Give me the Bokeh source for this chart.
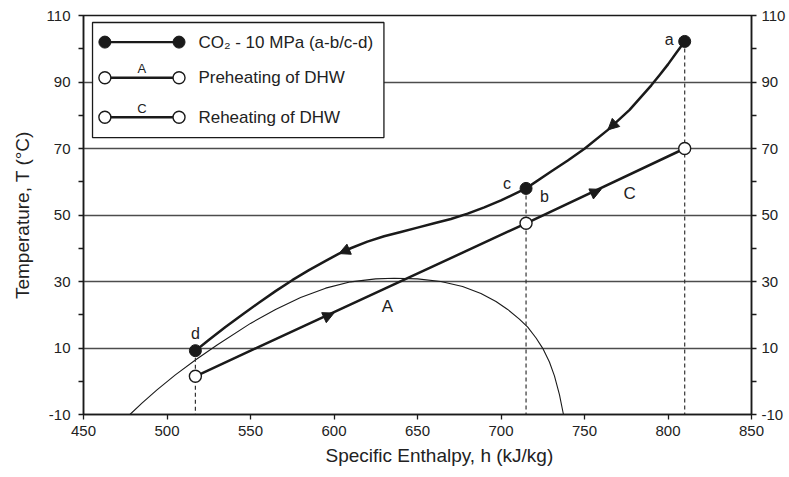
from bokeh.plotting import figure
from bokeh.models import (Range1d, FixedTicker, LinearAxis, Label, Arrow, NormalHead, Title)
from bokeh.embed import file_html
from bokeh.resources import INLINE

FONT = "Liberation Sans"
TXT = "#222222"
LINE = "#1a1a1a"

# ---------------- data ----------------
x_ticks = [450, 500, 550, 600, 650, 700, 750, 800, 850]
y_ticks = [-10, 10, 30, 50, 70, 90, 110]
y_minor = [0, 20, 40, 60, 80, 100]
grid_T = [10, 30, 50, 70, 90]

# CO2 at 10 MPa, a -> b/c -> d
co2_h = [810, 805, 800, 795, 790, 777, 764, 750, 740, 730, 715, 700, 690, 680, 670, 660,
         650, 640, 630, 620, 610, 603, 595, 585, 575, 565, 555, 545, 535, 525, 517]
co2_T = [102.2, 98.8, 95.3, 92.1, 89.0, 81.6, 75.6, 69.9, 66.4, 63.1, 58.0, 54.4, 52.3, 50.4, 48.8, 47.5,
         46.2, 44.9, 43.6, 42.0, 40.0, 38.4, 36.2, 33.4, 30.4, 27.1, 23.6, 20.0, 16.3, 12.4, 9.2]

# saturation dome
dome_h = [477.8, 485, 494, 505, 517, 530, 550, 565, 580, 595, 610, 625, 636, 650, 664,
          677, 688, 697, 704, 711, 716, 721, 725, 729, 732, 735, 737.4]
dome_T = [-10.0, -6.6, -2.6, 1.9, 6.4, 10.9, 17.4, 21.6, 25.2, 28.0, 29.9, 30.8, 31.0, 30.8, 30.0,
          28.5, 26.4, 24.0, 21.6, 18.7, 16.3, 13.0, 9.9, 5.8, 1.6, -4.0, -10.0]

# domestic hot water: A (preheating) then C (reheating)
dhw_h = [517, 715, 810]
dhw_T = [1.5, 47.5, 70.0]

# CO2 state points a, b/c, d
state_h = [810, 715, 517]
state_T = [102.2, 58.0, 9.2]

# arrow heads (start -> tip)
arrow_h0 = [777, 615, 517, 715]
arrow_T0 = [81.6, 41.0, 1.5, 47.5]
arrow_h1 = [764, 603, 600, 760]
arrow_T1 = [75.6, 38.4, 20.5, 57.7]

# curve labels
curve_lab = ["A", "C"]
curve_lab_h = [632, 777]
curve_lab_T = [22.4, 56.5]

x_title = "Specific Enthalpy, h (kJ/kg)"
y_title = "Temperature, T (°C)"
legend_texts = ["CO\u2082 - 10 MPa (a-b/c-d)", "Preheating of DHW", "Reheating of DHW"]

# ---------------- figure ----------------
p = figure(width=789, height=477, x_range=Range1d(450, 850), y_range=Range1d(-10, 110),
           output_backend="svg", toolbar_location=None,
           min_border_left=83, min_border_right=38, min_border_top=15, min_border_bottom=63)
p.background_fill_color = "white"
p.border_fill_color = "white"
p.outline_line_color = LINE
p.outline_line_width = 1.5

p.xaxis.ticker = FixedTicker(ticks=x_ticks)
p.yaxis.ticker = FixedTicker(ticks=y_ticks, minor_ticks=y_minor)

right_axis = LinearAxis(ticker=FixedTicker(ticks=y_ticks, minor_ticks=y_minor))
p.add_layout(right_axis, "right")

for ax in [p.xaxis[0], p.yaxis[0], right_axis]:
    ax.axis_line_color = LINE
    ax.axis_line_width = 1.5
    ax.major_tick_line_color = LINE
    ax.major_tick_line_width = 1.3
    ax.minor_tick_line_color = LINE
    ax.minor_tick_line_width = 1.3
    ax.major_tick_in = 0
    ax.major_tick_out = 5
    ax.minor_tick_in = 0
    ax.minor_tick_out = 5
    ax.major_label_text_font = FONT
    ax.major_label_text_font_size = "15px"
    ax.major_label_text_color = TXT
    ax.axis_label = None
for ax in [p.yaxis[0], right_axis]:
    ax.major_label_overrides = {t: str(t) for t in y_ticks}
p.xaxis[0].minor_tick_out = 0
p.xaxis[0].major_label_standoff = 6
p.yaxis[0].major_label_standoff = 8
right_axis.major_label_standoff = 5

# y axis title: text ends at the middle of the axis and runs upward
yax = p.yaxis[0]
yax.axis_label = y_title
yax.axis_label_text_font = FONT
yax.axis_label_text_font_size = "19px"
yax.axis_label_text_font_style = "normal"
yax.axis_label_text_color = TXT
yax.axis_label_text_align = "right"
yax.axis_label_standoff = 11

p.xgrid.visible = False
p.ygrid.ticker = FixedTicker(ticks=grid_T)
p.ygrid.grid_line_color = "#4d4d4d"
p.ygrid.grid_line_width = 1.3

# x axis title
p.add_layout(Title(text=x_title, align="left", offset=242, vertical_align="top", standoff=12,
                   text_font=FONT, text_font_size="19px", text_font_style="normal",
                   text_color=TXT), "below")

# ---------------- marks ----------------
p.line(dome_h, dome_T, line_color=LINE, line_width=1.1)

p.segment(x0=state_h, y0=state_T, x1=state_h, y1=[p.y_range.start] * len(state_h),
          line_color="#333333", line_width=1.2, line_dash="4 3")

p.line(dhw_h, dhw_T, line_color=LINE, line_width=2.5)
p.line(co2_h, co2_T, line_color=LINE, line_width=2.5, line_join="round")

for i in range(len(arrow_h0)):
    p.add_layout(Arrow(end=NormalHead(size=11, fill_color=LINE, line_color=LINE, line_width=1),
                       x_start=arrow_h0[i], y_start=arrow_T0[i], x_end=arrow_h1[i], y_end=arrow_T1[i],
                       line_alpha=0))

p.scatter(dhw_h, dhw_T, marker="circle", size=12, fill_color="white", line_color=LINE, line_width=1.4)
p.scatter(state_h, state_T, marker="circle", size=12, fill_color=LINE, line_color=LINE)

# state labels a, b, c, d
pt_style = dict(text_font=FONT, text_font_size="16px", text_color=TXT, text_baseline="middle")
p.add_layout(Label(x=state_h[0], y=state_T[0], text="a", x_offset=-11, y_offset=2, text_align="right", **pt_style))
p.add_layout(Label(x=state_h[1], y=state_T[1], text="c", x_offset=-15, y_offset=5, text_align="right", **pt_style))
p.add_layout(Label(x=state_h[1], y=state_T[1], text="b", x_offset=14, y_offset=-8, text_align="left", **pt_style))
p.add_layout(Label(x=state_h[2], y=state_T[2], text="d", x_offset=0, y_offset=17, text_align="center", **pt_style))

for t, hx, ty in zip(curve_lab, curve_lab_h, curve_lab_T):
    p.add_layout(Label(x=hx, y=ty, text=t, text_align="center", text_baseline="middle",
                       text_font=FONT, text_font_size="17px", text_color=TXT))

# ---------------- legend (drawn) ----------------
lg_left, lg_right, lg_top, lg_bottom = 455.4, 629.9, 107.9, 73.3
p.quad(left=[lg_left], right=[lg_right], top=[lg_top], bottom=[lg_bottom],
       fill_color="white", line_color=LINE, line_width=1.3)
row_T = [102.0, 91.3, 79.4]
s0, s1, tx = 462.8, 507.2, 518.8
p.segment(x0=[s0] * 3, y0=row_T, x1=[s1] * 3, y1=row_T, line_color=LINE, line_width=2.4)
p.scatter([s0, s1], [row_T[0]] * 2, marker="circle", size=12, fill_color=LINE, line_color=LINE)
p.scatter([s0, s1, s0, s1], [row_T[1]] * 2 + [row_T[2]] * 2, marker="circle", size=12,
          fill_color="white", line_color=LINE, line_width=1.4)
for t, ty in zip(legend_texts, row_T):
    p.add_layout(Label(x=tx, y=ty, text=t, text_align="left", text_baseline="middle",
                       text_font=FONT, text_font_size="17px", text_color=TXT))
for t, ty in zip(curve_lab, row_T[1:]):
    p.add_layout(Label(x=(s0 + s1) / 2, y=ty, y_offset=9, text=t, text_align="center",
                       text_baseline="middle", text_font=FONT, text_font_size="13px", text_color=TXT))

open("out.html", "w").write(file_html(p, INLINE))
